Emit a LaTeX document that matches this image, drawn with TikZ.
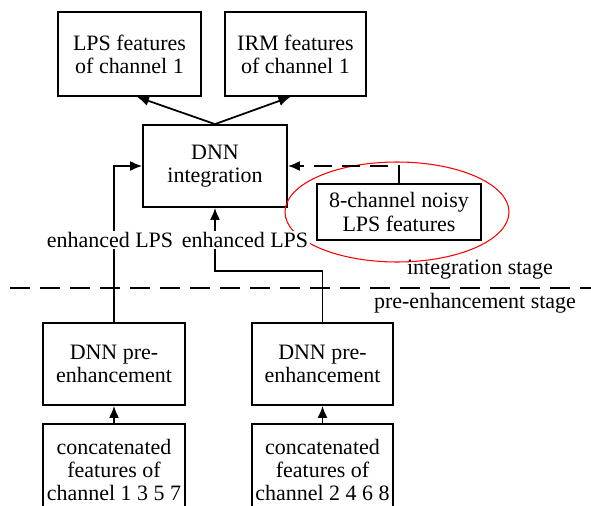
\documentclass[tikz,border=0pt]{standalone}
\usepackage{fontspec}
\setmainfont{LiberationSerif}[Extension=.ttf, UprightFont=*-Regular, BoldFont=*-Bold, ItalicFont=*-Italic]
\usepackage{tikz}
\usetikzlibrary{arrows.meta, positioning, calc}

\begin{document}
\begin{tikzpicture}[
        font=\rmfamily\fontsize{12.5}{13.2}\selectfont,
        box/.style={draw, line width=1pt, align=center, inner sep=2pt},
        rel/.style={-{Latex[length=2.4mm, width=2mm]}, line width=1pt},
        lbl/.style={fill=white, inner sep=1pt}
    ]
    \useasboundingbox (0,0) rectangle (11.82,10.12);

    % integration stage
    \node[box, minimum width=2.86cm, minimum height=1.68cm] (lps) at (2.59,9.04) {LPS features\\of channel 1};
    \node[box, minimum width=2.82cm, minimum height=1.68cm] (irm) at (5.91,9.04) {IRM features\\of channel 1};
    \node[box, minimum width=2.88cm, minimum height=1.64cm] (dnn) at (4.30,6.80) {DNN\\integration};
    \node[box, minimum width=3.28cm, minimum height=1.12cm] (noisy) at (7.98,5.88) {8-channel noisy\\LPS features};
    \draw[red, line width=0.6pt] (7.94,5.88) ellipse [x radius=2.24cm, y radius=1.0cm];

    % pre-enhancement stage
    \node[box, minimum width=2.84cm, minimum height=1.64cm] (pre1) at (2.28,2.84) {DNN pre-\\enhancement};
    \node[box, minimum width=2.82cm, minimum height=1.64cm] (pre2) at (6.45,2.84) {DNN pre-\\enhancement};
    \node[box, minimum width=2.84cm, minimum height=1.84cm, anchor=north] (cat1) at (2.28,1.66) {concatenated\\features of\\channel 1 3 5 7};
    \node[box, line width=1.3pt, minimum width=2.82cm, minimum height=1.84cm, anchor=north] (cat2) at (6.45,1.66) {concatenated\\features of\\channel 2 4 6 8};

    \draw[rel] (cat1) -- (pre1);
    \draw[rel] (cat2) -- (pre2);
    \draw[rel] (pre1.north) |- (dnn.west);
    \draw[rel] (pre2.north) -- ++(0,1.02) -| (dnn.south);
    \draw[rel, dash pattern=on 0.36cm off 0.2cm] (noisy.north) |- (dnn.east);
    \draw[rel] (dnn.north) -- ([xshift=0.15cm]lps.south);
    \draw[rel] (dnn.north) -- ([xshift=-0.1cm]irm.south);

    \node[lbl] (enh1) at (2.2,5.32) {enhanced LPS};
    \node[lbl] (enh2) at (4.9,5.32) {enhanced LPS};

    % stage border
    \draw[line width=1pt, dash pattern=on 0.4cm off 0.2cm] (0.2,4.36) -- (11.82,4.36);
    \node (intst) at (9.6,4.72) {integration stage};
    \node (prest) at (9.5,4.06) {pre-enhancement stage};
\end{tikzpicture}
\end{document}
